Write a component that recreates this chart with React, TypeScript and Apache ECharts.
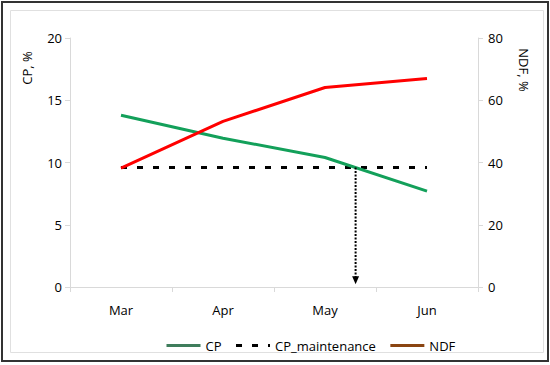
import React, { useEffect, useRef } from "react";
import * as echarts from "echarts";

const months = ["Mar", "Apr", "May", "Jun"];
const cpValues = [13.8, 11.95, 10.4, 7.7];
const cpMaintenance = [9.6, 9.6, 9.6, 9.6];
const ndfValues = [38.2, 53.2, 64.1, 67.0];
const crossingX = 2.3; // position (in category index units) where CP meets maintenance
const crossingY = 9.6;
const arrowEndY = 0.55;

export default function App() {
  const ref = useRef<HTMLDivElement>(null);
  useEffect(() => {
    const chart = echarts.init(ref.current!, null, { renderer: "svg" });
    const font = "'Open Sans', 'Noto Sans', sans-serif";
    const axisGray = "#d9d9d9";
    chart.setOption({
      animation: false,
      backgroundColor: "#ffffff",
      textStyle: { fontFamily: font },
      grid: { left: 70, right: 72, top: 38, bottom: 78 },
      xAxis: [
        {
          type: "category",
          data: months,
          boundaryGap: true,
          axisLine: { show: true, onZero: false, lineStyle: { color: axisGray, width: 1 } },
          axisTick: { show: true, length: 5, lineStyle: { color: axisGray } },
          axisLabel: { color: "#000", fontSize: 13, margin: 16, fontFamily: font },
          splitLine: { show: false },
        },
        {
          type: "value",
          min: -0.5,
          max: 3.5,
          show: false,
        },
      ],
      yAxis: [
        {
          type: "value",
          min: 0,
          max: 20,
          interval: 5,
          position: "left",
          axisLine: { show: true, onZero: false, lineStyle: { color: axisGray } },
          axisTick: { show: true, length: 5, lineStyle: { color: axisGray } },
          axisLabel: { color: "#000", fontSize: 13, margin: 8, fontFamily: font },
          splitLine: { show: false },
        },
        {
          type: "value",
          min: 0,
          max: 80,
          interval: 20,
          position: "right",
          axisLine: { show: true, onZero: false, lineStyle: { color: axisGray } },
          axisTick: { show: true, length: 5, lineStyle: { color: axisGray } },
          axisLabel: { color: "#000", fontSize: 13, margin: 10, fontFamily: font },
          splitLine: { show: false },
        },
      ],
      legend: {
        bottom: 8,
        left: 160,
        itemWidth: 34,
        itemHeight: 10,
        itemGap: 13,
        itemStyle: { opacity: 0 },
        textStyle: { color: "#000", fontSize: 13, fontFamily: font },
        data: [
          { name: "CP", lineStyle: { color: "#3f7d5c", width: 3 }, itemStyle: { opacity: 0 } },
          { name: "CP_maintenance", lineStyle: { color: "#000", width: 3, type: [6, 10] }, itemStyle: { opacity: 0 } },
          { name: "NDF", lineStyle: { color: "#8a4512", width: 3 }, itemStyle: { opacity: 0 } },
        ],
      },
      series: [
        {
          name: "CP",
          type: "line",
          data: cpValues,
          symbol: "none",
          lineStyle: { color: "#13a05a", width: 3 },
          itemStyle: { color: "#13a05a" },
          z: 3,
        },
        {
          name: "CP_maintenance",
          type: "line",
          data: cpMaintenance,
          symbol: "none",
          lineStyle: { color: "#000", width: 3, type: [6, 10] },
          itemStyle: { color: "#000" },
          z: 2,
        },
        {
          name: "NDF",
          type: "line",
          yAxisIndex: 1,
          data: ndfValues,
          symbol: "none",
          lineStyle: { color: "#ff0000", width: 3 },
          itemStyle: { color: "#ff0000" },
          z: 4,
        },
        {
          name: "arrow",
          type: "line",
          xAxisIndex: 1,
          yAxisIndex: 0,
          data: [
            { value: [crossingX, crossingY], symbol: "none" },
            { value: [crossingX, arrowEndY], symbol: "triangle", symbolRotate: 180, symbolSize: [7, 8] },
          ],
          lineStyle: { color: "#000", width: 2, type: [2, 1.5] },
          itemStyle: { color: "#000" },
          z: 5,
        },
      ],
      graphic: [
        {
          type: "rect",
          shape: { x: 2, y: 2, width: 546, height: 359 },
          style: { fill: "none", stroke: "#333", lineWidth: 2 },
          silent: true,
        },
        {
          type: "rect",
          shape: { x: 10.5, y: 10.5, width: 533, height: 342 },
          style: { fill: "none", stroke: "#e0e0e0", lineWidth: 1 },
          silent: true,
        },
        {
          type: "text",
          x: 27,
          y: 68,
          rotation: Math.PI / 2,
          style: {
            text: "CP, %",
            fill: "#000",
            font: `13px ${font}`,
            align: "center",
            verticalAlign: "middle",
          },
        },
        {
          type: "text",
          x: 524,
          y: 70,
          rotation: -Math.PI / 2,
          style: {
            text: "NDF, %",
            fill: "#000",
            font: `13px ${font}`,
            align: "center",
            verticalAlign: "middle",
          },
        },
      ],
    });
    return () => chart.dispose();
  }, []);
  return (
    <div
      ref={ref}
      style={{ position: "fixed", left: 0, top: 0, width: 550, height: 365 }}
    />
  );
}
